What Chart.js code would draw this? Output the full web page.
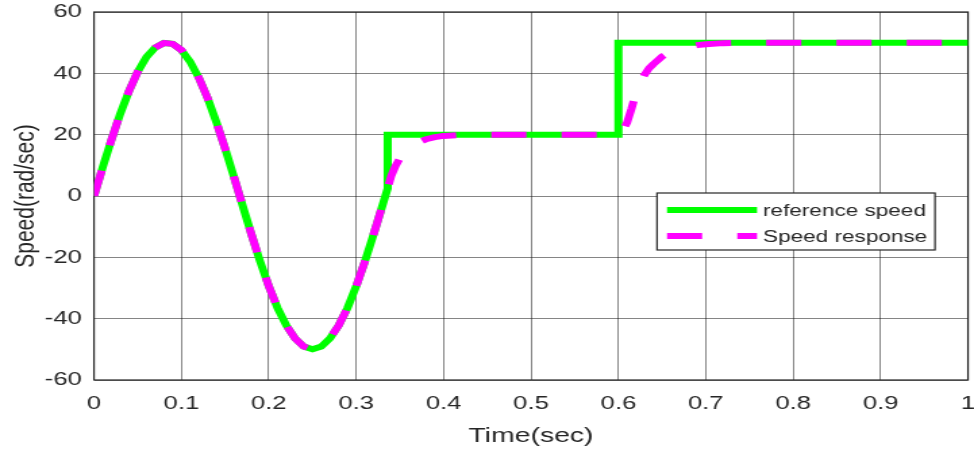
<!DOCTYPE html>
<html>
<head>
<meta charset="utf-8">
<title>Speed response</title>
<script src="https://cdn.jsdelivr.net/npm/chart.js@4.4.1/dist/chart.umd.min.js"></script>
<style>
  html, body { margin: 0; padding: 0; background: #ffffff; overflow: hidden; }
</style>
</head>
<body>
<!-- The drawing surface is rendered narrower and widened by CSS, giving the wide figure look. -->
<canvas id="c" width="721" height="452" style="display:block;width:974px;height:452px;"></canvas>
<script>
// Sinusoidal segment shared by the reference and the measured speed (t in s, speed in rad/s)
const sineTime = [0, 0.01, 0.02, 0.03, 0.04, 0.05, 0.06, 0.07, 0.08, 0.09, 0.10,
  0.11, 0.12, 0.13, 0.14, 0.15, 0.16, 0.17, 0.18, 0.19, 0.20,
  0.21, 0.22, 0.23, 0.24, 0.25, 0.26, 0.27, 0.28, 0.29, 0.30,
  0.31, 0.32, 0.33, 0.336];
const sineSpeed = [0, 9.4, 18.4, 26.8, 34.2, 40.5, 45.3, 48.4, 49.9, 49.6, 47.6,
  43.8, 38.5, 31.9, 24.1, 15.5, 6.3, -3.1, -12.4, -21.3, -29.4,
  -36.5, -42.2, -46.4, -49.1, -50, -49.1, -46.4, -42.2, -36.5, -29.4,
  -21.3, -12.4, -3.1, 2.5];

// Reference speed: steps to 20 rad/s, then to 50 rad/s
const refTailTime = [0.336, 0.6, 0.6, 1.0];
const refTailSpeed = [20, 20, 50, 50];

// Speed response after each step
const respTailTime = [0.340, 0.345, 0.350, 0.355, 0.360, 0.370, 0.380, 0.390, 0.400, 0.420, 0.450,
  0.600, 0.605, 0.610, 0.615, 0.620, 0.625, 0.630, 0.635, 0.640, 0.650, 0.660, 0.670, 0.680,
  0.690, 0.700, 0.720, 0.750, 1.0];
const respTailSpeed = [6.5, 9.8, 12.3, 14.1, 15.5, 17.4, 18.5, 19.2, 19.6, 19.85, 20,
  20, 21.3, 24, 28.5, 33.5, 37, 39.6, 41.6, 43, 45.5, 47, 48, 48.7,
  49.2, 49.5, 49.85, 50, 50];

const seriesLabels = ['reference speed', 'Speed response'];
const xTickLabels = ['0', '0.1', '0.2', '0.3', '0.4', '0.5', '0.6', '0.7', '0.8', '0.9', '1'];
const yTickLabels = ['-60', '-40', '-20', '0', '20', '40', '60'];

const refTime = sineTime.concat(refTailTime);
const refSpeed = sineSpeed.concat(refTailSpeed);
const respTime = sineTime.concat(respTailTime);
const respSpeed = sineSpeed.concat(respTailSpeed);

const toPoints = (xs, ys) => xs.map((x, i) => ({ x: x, y: ys[i] }));

const INK = '#262626';
const FONT = "'Liberation Sans', Arial, Helvetica, sans-serif";
const SX = 974 / 721; // horizontal widening applied by CSS

// Box around the plotting area
const frameBox = {
  id: 'frameBox',
  beforeDatasetsDraw(chart) {
    const { ctx, chartArea: a } = chart;
    ctx.save();
    ctx.strokeStyle = INK;
    ctx.lineWidth = 1.2;
    ctx.strokeRect(a.left, a.top, a.right - a.left, a.bottom - a.top);
    ctx.restore();
  }
};

// Legend drawn inside the axes, right-hand side
const innerLegend = {
  id: 'innerLegend',
  afterDraw(chart) {
    const { ctx } = chart;
    const left = 657 / SX, right = 935 / SX, top = 193, bottom = 250;
    const lineX0 = 667 / SX, lineX1 = 757 / SX, textX = 763 / SX;
    const rows = [210, 236];
    ctx.save();
    ctx.fillStyle = '#ffffff';
    ctx.fillRect(left, top, right - left, bottom - top);
    ctx.strokeStyle = INK;
    ctx.lineWidth = 1.2;
    ctx.strokeRect(left, top, right - left, bottom - top);
    chart.data.datasets.forEach((ds, i) => {
      const y = rows[i];
      ctx.beginPath();
      ctx.setLineDash(ds.borderDash || []);
      ctx.lineDashOffset = 0;
      ctx.strokeStyle = ds.borderColor;
      ctx.lineWidth = ds.borderWidth;
      ctx.lineCap = 'butt';
      ctx.moveTo(lineX0, y);
      ctx.lineTo(lineX1, y);
      ctx.stroke();
      ctx.setLineDash([]);
      ctx.fillStyle = INK;
      ctx.font = '16.7px ' + FONT;
      ctx.textAlign = 'left';
      ctx.textBaseline = 'middle';
      ctx.fillText(ds.label, textX, y + 1);
    });
    ctx.restore();
  }
};

new Chart(document.getElementById('c'), {
  type: 'scatter',
  data: {
    datasets: [
      {
        label: seriesLabels[0],
        data: toPoints(refTime, refSpeed),
        showLine: true,
        borderColor: '#00ff00',
        backgroundColor: '#00ff00',
        borderWidth: 6,
        pointRadius: 0,
        borderJoinStyle: 'miter',
        borderCapStyle: 'butt',
        order: 2
      },
      {
        label: seriesLabels[1],
        data: toPoints(respTime, respSpeed),
        showLine: true,
        borderColor: '#ff00ff',
        backgroundColor: '#ff00ff',
        borderWidth: 6,
        borderDash: [26, 26],
        pointRadius: 0,
        borderJoinStyle: 'round',
        borderCapStyle: 'butt',
        order: 1
      }
    ]
  },
  options: {
    responsive: false,
    animation: false,
    devicePixelRatio: 1,
    layout: { padding: { left: 0, top: 12, right: 721 - 968 / SX, bottom: 0 } },
    plugins: {
      legend: { display: false },
      tooltip: { enabled: false }
    },
    scales: {
      x: {
        type: 'linear',
        min: 0,
        max: 1,
        afterFit(scale) { scale.height = 72; scale.paddingLeft = 0; scale.paddingRight = 0; },
        ticks: {
          stepSize: 0.1,
          color: INK,
          font: { family: FONT, size: 19 },
          padding: 12,
          maxRotation: 0,
          autoSkip: false,
          callback: (v, i) => xTickLabels[i]
        },
        grid: { color: 'rgba(0,0,0,0.48)', lineWidth: 1, drawTicks: false },
        border: { display: false },
        title: {
          display: true,
          text: 'Time(sec)',
          color: INK,
          font: { family: FONT, size: 21 },
          padding: { top: 0, bottom: 3 }
        }
      },
      y: {
        type: 'linear',
        min: -60,
        max: 60,
        afterFit(scale) { scale.width = 94 / SX; scale.paddingTop = 0; scale.paddingBottom = 0; },
        ticks: {
          stepSize: 20,
          color: INK,
          font: { family: FONT, size: 19 },
          padding: 9,
          autoSkip: false,
          callback: (v, i) => yTickLabels[i]
        },
        grid: { color: 'rgba(0,0,0,0.48)', lineWidth: 1, drawTicks: false },
        border: { display: false },
        title: {
          display: true,
          text: 'Speed(rad/sec)',
          color: INK,
          font: { family: FONT, size: 21 },
          padding: { top: 7, bottom: 0 }
        }
      }
    }
  },
  plugins: [frameBox, innerLegend]
});
</script>
</body>
</html>
